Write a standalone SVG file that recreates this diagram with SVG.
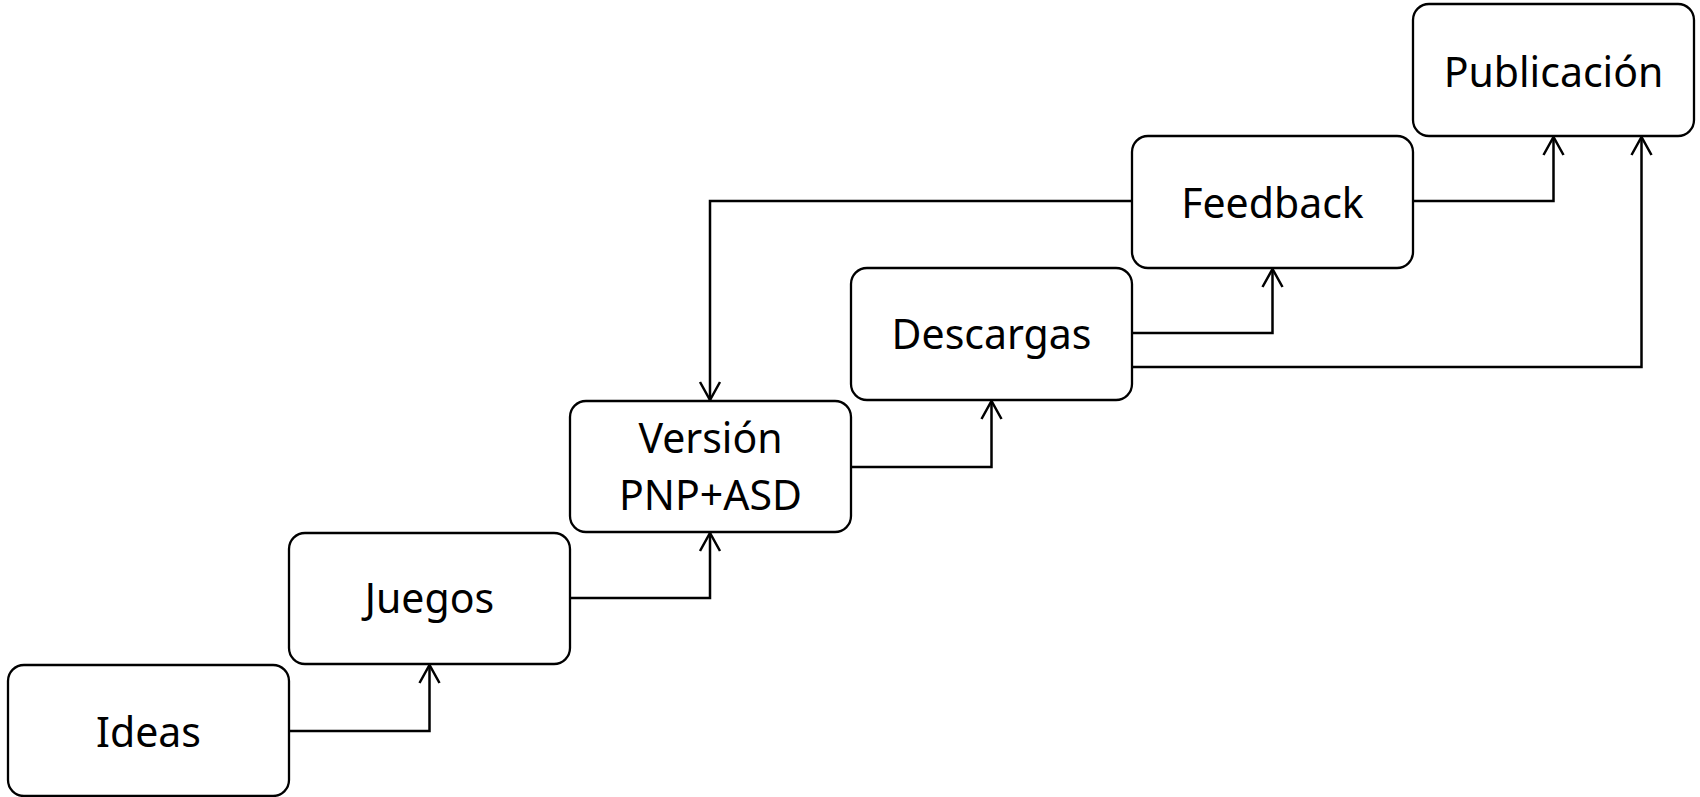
<svg xmlns="http://www.w3.org/2000/svg" width="1700" height="797" viewBox="0 0 1700 797">
<style>
.box{fill:#fff;stroke:#000;stroke-width:2.3}
.lbl{font-family:"Noto Sans","Open Sans",sans-serif;font-size:41px;fill:#000;text-anchor:middle}
.conn{fill:none;stroke:#000;stroke-width:2.5}
</style>
<defs>
<marker id="arr" viewBox="0 0 20 24" refX="19" refY="12" markerWidth="20" markerHeight="24" markerUnits="userSpaceOnUse" orient="auto">
<path d="M1,2 L19,12 L1,22" fill="none" stroke="#000" stroke-width="2.5"/>
</marker>
</defs>
<rect width="1700" height="797" fill="#fff"/>
<g id="connectors">
<path class="conn" d="M289,731 H429.5 V665" marker-end="url(#arr)"/>
<path class="conn" d="M570,598 H710 V533" marker-end="url(#arr)"/>
<path class="conn" d="M851,467 H991.5 V401" marker-end="url(#arr)"/>
<path class="conn" d="M1132,333 H1272.5 V269" marker-end="url(#arr)"/>
<path class="conn" d="M1132,367 H1641.5 V137" marker-end="url(#arr)"/>
<path class="conn" d="M1413,201 H1553.5 V137" marker-end="url(#arr)"/>
<path class="conn" d="M1132,201 H710 V400" marker-end="url(#arr)"/>
</g>
<g id="ideas"><rect class="box" x="8" y="665" width="281" height="131" rx="16"/><text class="lbl" x="148.5" y="747">Ideas</text></g>
<g id="juegos"><rect class="box" x="289" y="533" width="281" height="131" rx="16"/><text class="lbl" x="429.5" y="613">Juegos</text></g>
<g id="version"><rect class="box" x="570" y="401" width="281" height="131" rx="16"/><text class="lbl" x="710.5" y="453">Versión</text><text class="lbl" x="710.5" y="510">PNP+ASD</text></g>
<g id="descargas"><rect class="box" x="851" y="268" width="281" height="132" rx="16"/><text class="lbl" x="991.5" y="349">Descargas</text></g>
<g id="feedback"><rect class="box" x="1132" y="136" width="281" height="132" rx="16"/><text class="lbl" x="1272.5" y="218">Feedback</text></g>
<g id="publicacion"><rect class="box" x="1413" y="4" width="281" height="132" rx="16"/><text class="lbl" x="1553.5" y="87">Publicación</text></g>
</svg>
